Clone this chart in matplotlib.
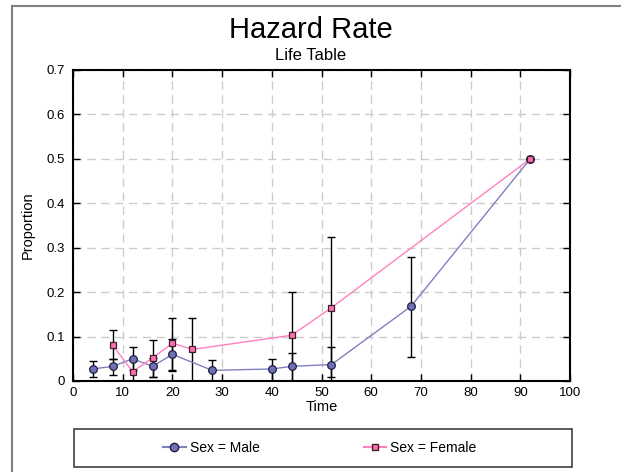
import matplotlib.pyplot as plt
from matplotlib.lines import Line2D
from matplotlib.patches import Rectangle

plt.rcParams['font.family'] = ['Liberation Sans', 'DejaVu Sans']

# male hazard rate
male_time = [4, 8, 12, 16, 20, 28, 40, 44, 52, 68, 92]
male_rate = [0.027, 0.033, 0.050, 0.033, 0.060, 0.024, 0.027, 0.033, 0.037, 0.168, 0.500]
male_lo = [0.010, 0.013, 0.025, 0.008, 0.023, 0.000, 0.000, 0.000, 0.009, 0.054, 0.500]
male_hi = [0.046, 0.049, 0.076, 0.051, 0.095, 0.047, 0.050, 0.064, 0.077, 0.280, 0.500]

# female hazard rate
female_time = [8, 12, 16, 20, 24, 44, 52, 92]
female_rate = [0.080, 0.021, 0.052, 0.085, 0.071, 0.103, 0.165, 0.500]
female_lo = [0.049, 0.000, 0.010, 0.025, 0.000, 0.000, 0.000, 0.500]
female_hi = [0.114, 0.050, 0.092, 0.142, 0.142, 0.200, 0.325, 0.500]

male_line = '#8080C0'
male_fill = '#7070B8'
female_line = '#FF80C0'
female_fill = '#FF70B0'

fig = plt.figure(figsize=(6.21, 4.72), dpi=100)
ax = fig.add_axes([0.1176, 0.1928, 0.8003, 0.6589])

ax.grid(True, color='#cccccc', linestyle=(0, (6, 4)), linewidth=1)
ax.set_axisbelow(True)

m_err = [[r - l for r, l in zip(male_rate, male_lo)], [h - r for r, h in zip(male_rate, male_hi)]]
f_err = [[r - l for r, l in zip(female_rate, female_lo)], [h - r for r, h in zip(female_rate, female_hi)]]

ax.errorbar(male_time, male_rate, yerr=m_err, fmt='none', ecolor='black',
            elinewidth=1, capsize=3, capthick=1, zorder=3)
ax.errorbar(female_time, female_rate, yerr=f_err, fmt='none', ecolor='black',
            elinewidth=1, capsize=3, capthick=1, zorder=3)

ax.plot(male_time, male_rate, color=male_line, linewidth=1, zorder=4)
ax.plot(female_time, female_rate, color=female_line, linewidth=1, zorder=4)
ax.plot(male_time, male_rate, linestyle='none', marker='o', markersize=5.5,
        markerfacecolor=male_fill, markeredgecolor='#202040', markeredgewidth=0.9, zorder=5)
ax.plot(female_time, female_rate, linestyle='none', marker='s', markersize=4.5,
        markerfacecolor=female_fill, markeredgecolor='#402030', markeredgewidth=0.9, zorder=6)

ax.set_xlim(0, 100)
ax.set_ylim(0, 0.7)
ax.set_xticks(range(0, 101, 10))
ax.set_yticks([0, 0.1, 0.2, 0.3, 0.4, 0.5, 0.6, 0.7])
ax.set_yticklabels(['0', '0.1', '0.2', '0.3', '0.4', '0.5', '0.6', '0.7'])
ax.tick_params(direction='in', length=5, width=1, labelsize=9.5, top=True, right=True)
ax.tick_params(axis='y', pad=6)
ax.tick_params(axis='x', pad=4)
for s in ax.spines.values():
    s.set_linewidth(1.5)
ax.set_xlabel('Time', fontsize=10.5, labelpad=1)
ax.set_ylabel('Proportion', fontsize=10.5, labelpad=8)

fig.text(0.5, 0.937, 'Hazard Rate', ha='center', va='center', fontsize=21)
fig.text(0.5, 0.882, 'Life Table', ha='center', va='center', fontsize=12)

# figure frame (left and top only)
fig.add_artist(Line2D([0.0193, 0.0193], [0, 0.987], color='#808080', linewidth=1.5))
fig.add_artist(Line2D([0.0193, 1.0], [0.987, 0.987], color='#808080', linewidth=1.5))

# legend box
fig.add_artist(Rectangle((0.1192, 0.0106), 0.802, 0.0805, transform=fig.transFigure,
                         fill=False, edgecolor='#404040', linewidth=1.2))
handles = [
    Line2D([], [], color=male_line, marker='o', markersize=6, markerfacecolor=male_fill,
           markeredgecolor='#202040'),
    Line2D([], [], color=female_line, marker='s', markersize=4.5, markerfacecolor=female_fill,
           markeredgecolor='#402030'),
]
fig.legend(handles, ['Sex = Male', 'Sex = Female'], loc='center',
           bbox_to_anchor=(0.515, 0.0508), ncol=2, fontsize=10, frameon=False,
           handlelength=1.6, handletextpad=0.3, columnspacing=7.5)

plt.savefig('out.png', dpi=100)
